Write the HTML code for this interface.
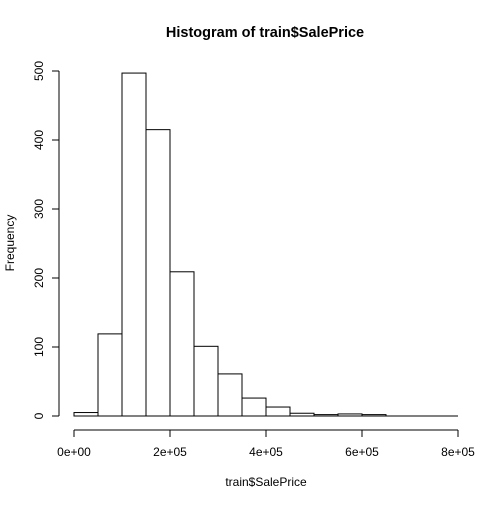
<!DOCTYPE html>
<html><head><meta charset="utf-8"><style>
body{margin:0;background:#fff}
svg text{font-family:"Liberation Sans",Arial,sans-serif;font-size:12px;fill:#000}
</style></head><body>
<svg width="504" height="504" id="c">
<text x="265" y="37" text-anchor="middle" font-weight="bold" style="font-size:14.5px">Histogram of train$SalePrice</text>
<text x="266" y="486" text-anchor="middle">train$SalePrice</text>
<text transform="translate(14,243) rotate(-90)" text-anchor="middle">Frequency</text>
<g id="bars"></g><g id="ax"></g>
</svg>
<script>
const binStarts=[0,50000,100000,150000,200000,250000,300000,350000,400000,450000,500000,550000,600000,650000,700000,750000];
const counts=[5,119,497,415,209,101,61,26,13,4,2,3,2,0,0,0];
const xTicks=[0,200000,400000,600000,800000];
const xTickLabels=["0e+00","2e+05","4e+05","6e+05","8e+05"];
const yTicks=[0,100,200,300,400,500];
const binWidth=50000;
const X=v=>74+v*(384/800000), Y=v=>416-v*0.69;
const NS="http://www.w3.org/2000/svg";
function mk(t,a,p){const e=document.createElementNS(NS,t);for(const k in a)e.setAttribute(k,a[k]);p.appendChild(e);return e;}
const bars=document.getElementById('bars'),ax=document.getElementById('ax');
const base=mk('line',{x1:X(binStarts[0]),x2:X(binStarts[binStarts.length-1]+binWidth),y1:Y(0),y2:Y(0),stroke:'#000'},bars);


binStarts.forEach((b,i)=>{
 const r=mk('rect',{x:X(b),y:Y(counts[i]),width:X(b+binWidth)-X(b),height:Y(0)-Y(counts[i]),fill:'none',stroke:'#000'},bars);
 
 
});
const xl=mk('line',{x1:X(xTicks[0]),x2:X(xTicks[xTicks.length-1]),y1:430,y2:430,stroke:'#000'},ax);


xTicks.forEach((t,i)=>{
 mk('line',{x1:X(t),x2:X(t),y1:430,y2:437,stroke:'#000'},ax);
 const tx=mk('text',{x:X(t),y:456,'text-anchor':'middle'},ax);tx.textContent=xTickLabels[i];
 
 
});
const yl=mk('line',{x1:59,x2:59,y1:Y(yTicks[0]),y2:Y(yTicks[yTicks.length-1]),stroke:'#000'},ax);


yTicks.forEach(t=>{
 mk('line',{x1:52,x2:59,y1:Y(t),y2:Y(t),stroke:'#000'},ax);
 const tx=mk('text',{transform:`translate(43,${Y(t)}) rotate(-90)`,'text-anchor':'middle'},ax);tx.textContent=t;
 
 
});
</script>
</body></html>
